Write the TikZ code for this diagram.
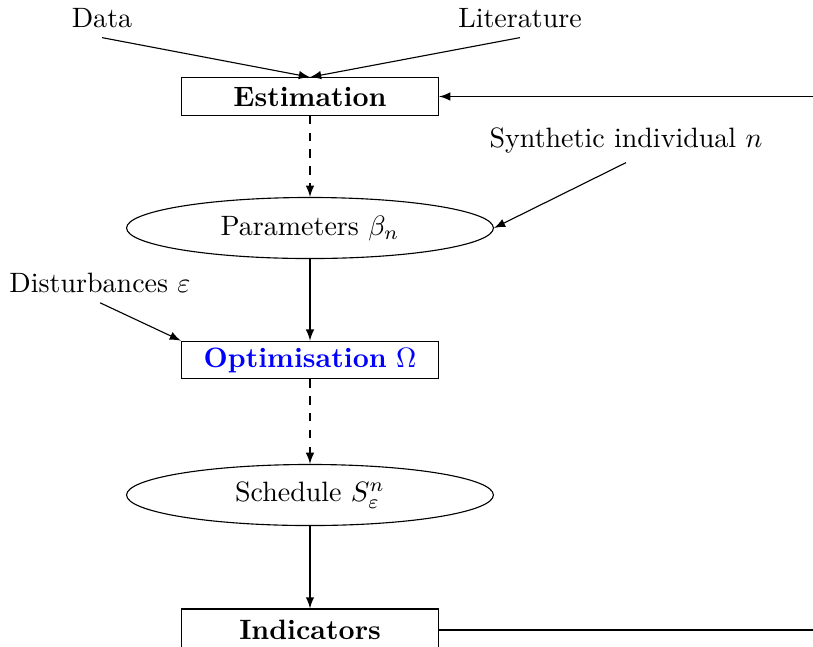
\documentclass[tikz,border=0pt]{standalone}
\usetikzlibrary{shapes.geometric}
\begin{document}
\begin{tikzpicture}[x=0.3571pt,y=-0.3571pt,
  procbox/.style={draw, rectangle, minimum width=91.8pt, minimum height=13.4pt, inner sep=2pt},
  databubble/.style={draw, ellipse, minimum width=131pt, minimum height=21.8pt, inner sep=0pt},
  lbl/.style={inner sep=3.33pt},
  arr/.style={-latex},
  darr/.style={-latex, dashed}]
\clip (0,0) rectangle (813,646);
\node[lbl] (data) at (102,18) {Data};
\node[lbl] (lit) at (520,18) {Literature};
\node[procbox] (est) at (310,96.5) {\textbf{Estimation}};
\node[databubble] (par) at (310,228) {Parameters $\beta_n$};
\node[lbl] (syn) at (626,140) {Synthetic individual $n$};
\node[lbl] (dist) at (100,283) {Disturbances $\varepsilon$};
\node[procbox] (opt) at (310,360) {\textcolor{blue}{\textbf{Optimisation} $\Omega$}};
\node[databubble] (sch) at (310,495) {Schedule $S^n_\varepsilon$};
\node[procbox, minimum height=15pt] (ind) at (310,630) {\textbf{Indicators}};
\coordinate (far) at (900,0);
\draw[arr] (data.south) -- (est.north);
\draw[arr] (lit.south) -- (est.north);
\draw[darr] (est.south) -- (par.north);
\draw[arr] (syn.south) -- (par.east);
\draw[arr] (par.south) -- (opt.north);
\draw[arr] (dist.south) -- (opt.north west);
\draw[darr] (opt.south) -- (sch.north);
\draw[arr] (sch.south) -- (ind.north);
\draw[arr] (ind.east) -- (ind.east -| far) |- (est.east);
\end{tikzpicture}
\end{document}
